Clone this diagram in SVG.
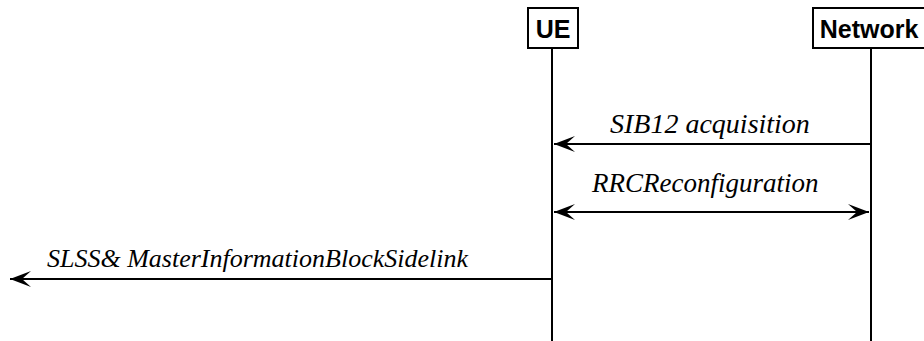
<svg xmlns="http://www.w3.org/2000/svg" width="924" height="341" viewBox="0 0 924 341">
<defs>
<marker id="ah" markerUnits="userSpaceOnUse" viewBox="0 0 22 18" refX="22" refY="9" markerWidth="22" markerHeight="18" orient="auto-start-reverse">
<path d="M22,9 L1,1 L10,9 L1,17 Z" fill="#000"/>
</marker>
</defs>
<text x="610" y="133" font-family="Liberation Serif" font-style="italic" font-size="28">SIB12 acquisition</text>
<text x="592" y="192" font-family="Liberation Serif" font-style="italic" font-size="27">RRCReconfiguration</text>
<text x="47" y="267" font-family="Liberation Serif" font-style="italic" font-size="26">SLSS&amp; MasterInformationBlockSidelink</text>
<g id="connectors" stroke="#000" stroke-width="2">
<line x1="870" y1="144" x2="554" y2="144" marker-end="url(#ah)"/>
<line x1="554" y1="212" x2="869" y2="212" marker-start="url(#ah)" marker-end="url(#ah)"/>
<line x1="551" y1="279" x2="10" y2="279" marker-end="url(#ah)"/>
</g>
<g id="ue">
<line stroke="#000" stroke-width="2" x1="552" y1="48" x2="552" y2="341"/>
<rect fill="#fff" stroke="#000" stroke-width="2" x="528" y="8" width="50" height="40"/>
<text font-family="Liberation Sans" font-weight="bold" font-size="25" text-anchor="middle" x="553" y="38">UE</text>
</g>
<g id="network">
<line stroke="#000" stroke-width="2" x1="871" y1="48" x2="871" y2="341"/>
<rect fill="#fff" stroke="#000" stroke-width="2" x="813" y="8" width="120" height="40"/>
<text font-family="Liberation Sans" font-weight="bold" font-size="25" text-anchor="middle" x="869" y="38">Network</text>
</g>
</svg>
